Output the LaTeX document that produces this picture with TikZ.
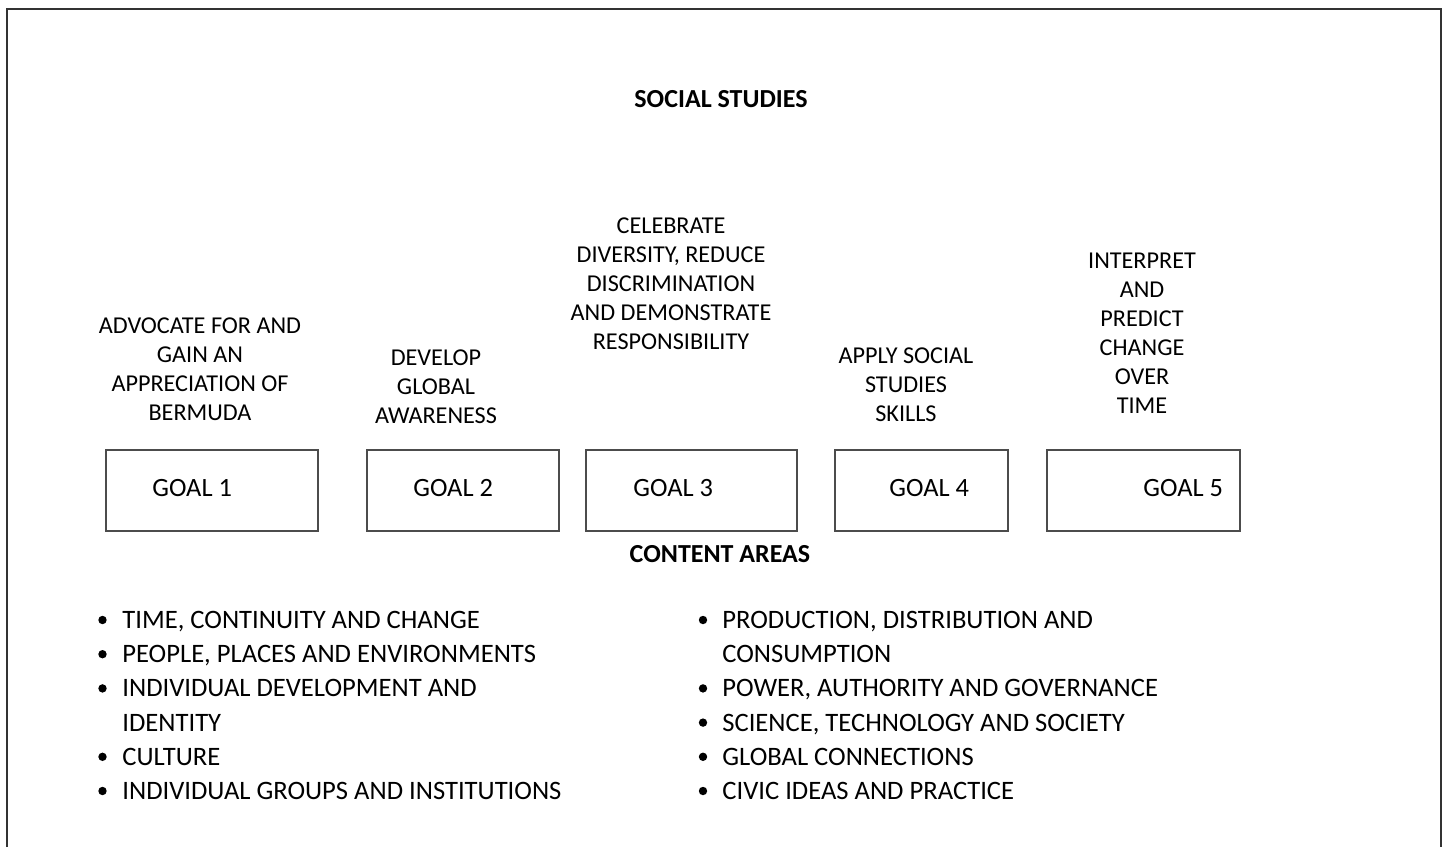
\documentclass[tikz,border=0pt]{standalone}
\usepackage{fontspec}
\setmainfont{Carlito}
\usepackage{tikz}
\usetikzlibrary{calc,positioning}

\begin{document}
\begin{tikzpicture}[x=0.5pt,y=-0.5pt,
    goalbox/.style={draw=black!70,line width=0.6pt,rectangle,minimum height=40.5pt,inner sep=0pt},
    goaltext/.style={anchor=base west,inner sep=0pt,font=\fontsize{13.2}{16}\selectfont},
    aimtext/.style={anchor=base,align=center,inner sep=0pt,font=\fontsize{12.1}{14.55}\selectfont},
    headtext/.style={anchor=base,inner sep=0pt,font=\fontsize{13}{16}\selectfont\bfseries},
    itemtext/.style={anchor=base west,inner sep=0pt,font=\fontsize{13.3}{16}\selectfont}]
\useasboundingbox[fill=white] (0,0) rectangle (1446,847);
% open frame, runs off the bottom
\coordinate (fbl) at (7,847);
\coordinate (ftl) at (7,9);
\coordinate (ftr) at (1441,9);
\coordinate (fbr) at (1441,847);
\draw[black!80,line width=1pt] (fbl) -- (ftl) -- (ftr) -- (fbr);

\node[headtext] (title) at (721,107) {SOCIAL STUDIES};

% the five goals
\node[goalbox,minimum width=106pt] (goal1) at (212,490.5) {};
\node[goalbox,minimum width=96pt] (goal2) at (463,490.5) {};
\node[goalbox,minimum width=105.5pt] (goal3) at (691.5,490.5) {};
\node[goalbox,minimum width=86.5pt] (goal4) at (921.5,490.5) {};
\node[goalbox,minimum width=96.5pt] (goal5) at (1143.5,490.5) {};

\node[goaltext] (g1text) at (152,496.5) {GOAL 1};
\node[goaltext] (g2text) at (413,496.5) {GOAL 2};
\node[goaltext] (g3text) at (633,496.5) {GOAL 3};
\node[goaltext] (g4text) at (889,496.5) {GOAL 4};
\node[goaltext] (g5text) at (1143,496.5) {GOAL 5};

% base anchor sits on the last line
\node[aimtext] (aim1) at (200,420.3) {ADVOCATE FOR AND\\GAIN AN\\APPRECIATION OF\\BERMUDA};
\node[aimtext] (aim2) at (436,423.2) {DEVELOP\\GLOBAL\\AWARENESS};
\node[aimtext] (aim3) at (671,349.4) {CELEBRATE\\DIVERSITY, REDUCE\\DISCRIMINATION\\AND DEMONSTRATE\\RESPONSIBILITY};
\node[aimtext] (aim4) at (906,421.7) {APPLY SOCIAL\\STUDIES\\SKILLS};
\node[aimtext] (aim5) at (1142,413.5) {INTERPRET\\AND\\PREDICT\\CHANGE\\OVER\\TIME};

\node[headtext] (content) at (720,562) {CONTENT AREAS};

% content areas, two columns
\foreach \txt/\dot [count=\i] in {{TIME, CONTINUITY AND CHANGE}/1,{PEOPLE, PLACES AND ENVIRONMENTS}/1,
    {INDIVIDUAL DEVELOPMENT AND}/1,{IDENTITY}/0,{CULTURE}/1,{INDIVIDUAL GROUPS AND INSTITUTIONS}/1}{
  \node[itemtext] (left\i) at (122,{628.5+34.2*(\i-1)}) {\txt};
  \ifnum\dot=1 \fill (102.5,{620+34.2*(\i-1)}) circle (4.2); \fi
}
\foreach \txt/\dot [count=\i] in {{PRODUCTION, DISTRIBUTION AND}/1,{CONSUMPTION}/0,
    {POWER, AUTHORITY AND GOVERNANCE}/1,{SCIENCE, TECHNOLOGY AND SOCIETY}/1,{GLOBAL CONNECTIONS}/1,{CIVIC IDEAS AND PRACTICE}/1}{
  \node[itemtext] (right\i) at (722,{628.5+34.2*(\i-1)}) {\txt};
  \ifnum\dot=1 \fill (703,{620+34.2*(\i-1)}) circle (4.2); \fi
}
\end{tikzpicture}
\end{document}
